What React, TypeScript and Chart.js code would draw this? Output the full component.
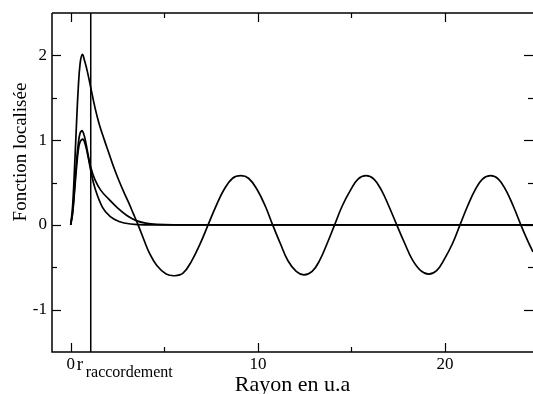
import { useEffect, useRef } from 'react';
import { Chart, registerables } from 'chart.js';

Chart.register(...registerables);

// ---- axis ranges and ticks ----
const X_MIN = -1;
const X_MAX = 24.7;
const Y_MIN = -1.5;
const Y_MAX = 2.5;
const xMajorTicks = [0, 10, 20];
const xMinorTicks = [5, 15];
const xTickLabels = ['0', '10', '20'];
const yMajorTicks = [-1, 0, 1, 2];
const yMinorTicks = [-0.5, 0.5, 1.5];
const yTickLabels = ['-1', '0', '1', '2'];
const rRaccordement = 1.07;
const xTitle = 'Rayon en u.a';
const yTitle = 'Fonction localisée';

// ---- series: oscillating (free) function ----
const waveR = [0, 0.1, 0.2, 0.3, 0.4, 0.5, 0.62, 0.75, 0.9, 1.07, 1.3, 1.52, 1.8, 2.05, 2.3, 2.58, 2.85, 3.12, 3.35, 3.6,
  3.9, 4.2, 4.6, 5.1, 5.56, 6.0, 6.45, 6.9, 7.34, 7.78, 8.2, 8.65, 9.09, 9.5, 9.95, 10.4, 10.79, 11.2, 11.6, 12.05,
  12.46, 12.9, 13.3, 13.7, 14.1, 14.5, 14.95, 15.35, 15.78, 16.2, 16.6, 17.0, 17.42, 17.85, 18.25, 18.7, 19.13, 19.55, 19.95, 20.4,
  20.8, 21.2, 21.6, 22.0, 22.44, 22.85, 23.25, 23.65, 24.05, 24.4, 24.7];
const waveY = [0, 0.22, 0.65, 1.15, 1.6, 1.9, 2.01, 1.93, 1.8, 1.62, 1.38, 1.19, 1.0, 0.84, 0.68, 0.52, 0.38, 0.25, 0.13, 0.0,
  -0.17, -0.33, -0.48, -0.58, -0.6, -0.57, -0.43, -0.23, 0, 0.23, 0.42, 0.55, 0.58, 0.55, 0.42, 0.22, 0, -0.22, -0.42, -0.55,
  -0.59, -0.55, -0.42, -0.22, 0, 0.22, 0.41, 0.54, 0.58, 0.54, 0.41, 0.22, 0, -0.22, -0.41, -0.54, -0.58, -0.54, -0.41, -0.22,
  0, 0.22, 0.41, 0.54, 0.58, 0.54, 0.41, 0.22, 0, -0.18, -0.32];

// ---- series: localised function A (peak ~1.11) ----
const locAR = [0, 0.1, 0.2, 0.3, 0.4, 0.5, 0.62, 0.75, 0.9, 1.07, 1.3, 1.6, 2.05, 2.5, 3.0, 3.5, 4.0, 4.6, 5.5, 24.7];
const locAY = [0, 0.15, 0.42, 0.72, 0.95, 1.08, 1.11, 1.03, 0.86, 0.68, 0.53, 0.41, 0.3, 0.2, 0.11, 0.05, 0.02, 0.005, 0, 0];

// ---- series: localised function B (peak ~1.01) ----
const locBR = [0, 0.1, 0.2, 0.3, 0.4, 0.5, 0.66, 0.8, 0.95, 1.07, 1.3, 1.69, 2.1, 2.58, 3.2, 4.0, 24.7];
const locBY = [0, 0.13, 0.38, 0.65, 0.87, 0.98, 1.01, 0.93, 0.78, 0.64, 0.43, 0.21, 0.1, 0.04, 0.01, 0, 0];

const FONT = '"Liberation Serif", "Times New Roman", "DejaVu Serif", serif';

function App() {
  const ref = useRef<HTMLCanvasElement>(null);

  useEffect(() => {
    document.body.style.margin = '0';
    const canvas = ref.current;
    if (!canvas) return;

    const toPts = (xs: number[], ys: number[]) => xs.map((x, i) => ({ x, y: ys[i] }));
    const curve = (data: { x: number; y: number }[], width = 1.7, tension = 0.4) => ({
      data,
      borderColor: '#000',
      borderWidth: width,
      pointRadius: 0,
      fill: false,
      tension,
    });

    const frame = {
      id: 'frame',
      afterDraw(chart: any) {
        const { ctx, chartArea: a, scales } = chart;
        const xs = scales.x;
        const ys = scales.y;
        ctx.save();
        ctx.strokeStyle = '#000';
        ctx.fillStyle = '#000';
        ctx.lineWidth = 1.5;
        // axes lines
        ctx.beginPath();
        ctx.moveTo(a.left, a.top);
        ctx.lineTo(a.left, a.bottom);
        ctx.lineTo(a.right, a.bottom);
        ctx.moveTo(a.left, a.top);
        ctx.lineTo(a.right, a.top);
        ctx.stroke();

        ctx.lineWidth = 1.2;
        const tick = (x1: number, y1: number, x2: number, y2: number) => {
          ctx.beginPath();
          ctx.moveTo(x1, y1);
          ctx.lineTo(x2, y2);
          ctx.stroke();
        };
        const MAJ = 9;
        const MIN = 5;
        xMajorTicks.forEach((v) => {
          const px = Math.round(xs.getPixelForValue(v)) + 0.5;
          tick(px, a.bottom, px, a.bottom - MAJ);
          tick(px, a.top, px, a.top + MAJ);
        });
        xMinorTicks.forEach((v) => {
          const px = Math.round(xs.getPixelForValue(v)) + 0.5;
          tick(px, a.bottom, px, a.bottom - MIN);
          tick(px, a.top, px, a.top + MIN);
        });
        yMajorTicks.forEach((v) => {
          const py = Math.round(ys.getPixelForValue(v)) + 0.5;
          tick(a.left, py, a.left + MAJ, py);
          tick(a.right, py, a.right - MAJ, py);
        });
        yMinorTicks.forEach((v) => {
          const py = Math.round(ys.getPixelForValue(v)) + 0.5;
          tick(a.left, py, a.left + MIN, py);
          tick(a.right, py, a.right - MIN, py);
        });

        // tick labels
        ctx.font = `17px ${FONT}`;
        ctx.textAlign = 'center';
        ctx.textBaseline = 'middle';
        xMajorTicks.forEach((v, i) => {
          ctx.fillText(xTickLabels[i], xs.getPixelForValue(v), a.bottom + 13);
        });
        ctx.textAlign = 'right';
        yMajorTicks.forEach((v, i) => {
          ctx.fillText(yTickLabels[i], a.left - 5, ys.getPixelForValue(v));
        });

        // r_raccordement label
        const rx = xs.getPixelForValue(rRaccordement);
        ctx.textAlign = 'left';
        ctx.textBaseline = 'alphabetic';
        ctx.font = `19px ${FONT}`;
        ctx.fillText('r', rx - 14, a.bottom + 18);
        ctx.font = `16px ${FONT}`;
        ctx.fillText('raccordement', rx - 5, a.bottom + 25);

        // axis titles
        ctx.font = `22px ${FONT}`;
        ctx.textAlign = 'center';
        ctx.fillText(xTitle, (a.left + a.right) / 2, a.bottom + 39);

        ctx.save();
        ctx.translate(26, 152);
        ctx.rotate(-Math.PI / 2);
        ctx.font = `19px ${FONT}`;
        ctx.fillText(yTitle, 0, 0);
        ctx.restore();

        ctx.restore();
      },
    };

    const chart = new Chart(canvas, {
      type: 'line',
      data: {
        datasets: [
          curve(toPts(waveR, waveY)),
          curve(toPts(locAR, locAY)),
          curve(toPts(locBR, locBY)),
          curve([
            { x: rRaccordement, y: Y_MIN },
            { x: rRaccordement, y: Y_MAX },
          ], 1.5, 0),
        ],
      },
      options: {
        responsive: false,
        animation: false,
        events: [],
        layout: { padding: { left: 52, top: 13, right: 0, bottom: 42 } },
        plugins: { legend: { display: false }, tooltip: { enabled: false } },
        scales: {
          x: { type: 'linear', min: X_MIN, max: X_MAX, display: false },
          y: { type: 'linear', min: Y_MIN, max: Y_MAX, display: false },
        },
      },
      plugins: [frame],
    });

    return () => chart.destroy();
  }, []);

  return <canvas ref={ref} width={533} height={394} style={{ display: 'block' }} />;
}

export default App;
